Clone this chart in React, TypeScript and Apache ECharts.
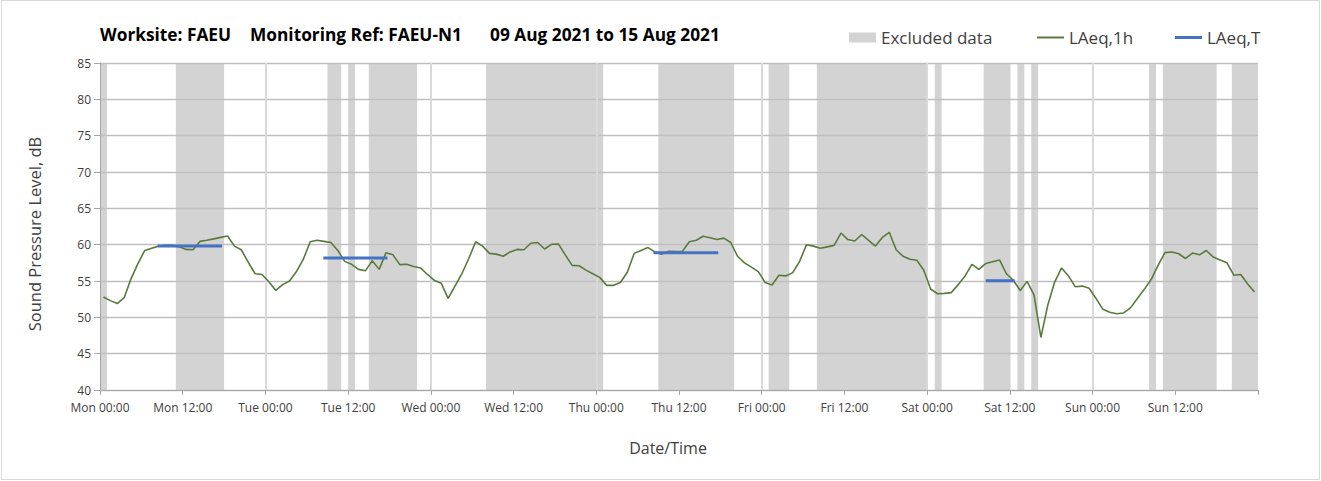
import React, { useEffect, useRef } from "react";
import * as echarts from "echarts";

// LAeq,1h hourly values (index i = hour i from Mon 00:00, plotted at bin centre)
const laeq1h = [
  52.8, 52.3, 51.9, 52.7, 55.3, 57.4, 59.2, 59.5, 59.8, 59.9,
  59.9, 59.7, 59.35, 59.3, 60.45, 60.6, 60.8, 61.0, 61.2, 59.8,
  59.3, 57.6, 56.0, 55.9, 54.9, 53.7, 54.5, 55.0, 56.3, 58.0,
  60.4, 60.6, 60.45, 60.3, 59.2, 57.7, 57.3, 56.6, 56.4, 57.8,
  56.6, 58.9, 58.6, 57.25, 57.3, 57.0, 56.8, 55.9, 55.1, 54.7,
  52.6, 54.3, 56.0, 58.1, 60.4, 59.8, 58.8, 58.7, 58.4, 59.0,
  59.35, 59.3, 60.2, 60.3, 59.4, 60.05, 60.1, 58.6, 57.15, 57.1,
  56.5, 56.0, 55.5, 54.4, 54.4, 54.8, 56.2, 58.8, 59.2, 59.6,
  59.0, 58.7, 59.1, 59.05, 59.1, 60.4, 60.6, 61.15, 60.95, 60.7,
  60.9, 60.3, 58.4, 57.5, 56.9, 56.3, 54.8, 54.45, 55.8, 55.7,
  56.15, 57.7, 60.0, 59.8, 59.5, 59.7, 59.9, 61.6, 60.7, 60.5,
  61.4, 60.6, 59.8, 61.0, 61.7, 59.3, 58.4, 58.0, 57.85, 56.5,
  53.9, 53.25, 53.3, 53.4, 54.5, 55.7, 57.3, 56.6, 57.4, 57.65,
  57.9, 56.0, 55.1, 53.7, 54.95, 53.1, 47.25, 51.65, 54.85, 56.8,
  55.7, 54.2, 54.3, 54.0, 52.6, 51.1, 50.7, 50.5, 50.6, 51.3,
  52.6, 53.85, 55.2, 57.15, 58.9, 59.0, 58.75, 58.1, 58.85, 58.6,
  59.2, 58.3, 57.9, 57.5, 55.8, 55.9, 54.6, 53.5,
];

// Excluded data periods (hours from Mon 00:00)
const excludedStart = [0, 11, 33, 36, 39, 56, 81, 97, 104, 121.1, 128.2, 133.1, 135.1, 152.2, 154.2, 164.2];
const excludedEnd = [1, 18, 35, 37, 46, 73, 92, 100, 120, 122.1, 132.1, 134.1, 136.1, 153.2, 162, 168];

// LAeq,T periods
const periodStart = [8.4, 32.4, 80.3, 128.5];
const periodEnd = [17.7, 41.7, 89.7, 132.7];
const periodLevel = [59.8, 58.15, 58.9, 55.05];

const dayNames = ["Mon", "Tue", "Wed", "Thu", "Fri", "Sat", "Sun"];
const titleParts = ["Worksite: FAEU", "Monitoring Ref: FAEU-N1", "09 Aug 2021 to 15 Aug 2021"];

const FONT = "Open Sans";

export default function App() {
  const ref = useRef<HTMLDivElement>(null);
  useEffect(() => {
    if (!ref.current) return;
    const chart = echarts.init(ref.current, null, { renderer: "svg" });

    const hourlyData = laeq1h.map((v, i) => [i + 0.5, v]);
    const excludedData = excludedStart.map((s, i) => [s, excludedEnd[i]]);
    const periodData: any[] = [];
    periodStart.forEach((s, i) => {
      periodData.push([s, periodLevel[i]]);
      periodData.push([periodEnd[i], periodLevel[i]]);
      periodData.push([periodEnd[i], "-"]);
    });

    const titlePos = [100, 250, 490];
    const legendText = { fontFamily: FONT, fontSize: 17, color: "#404040" };

    chart.setOption({
      animation: false,
      textStyle: { fontFamily: FONT },
      title: titleParts.map((t, i) => ({
        text: t,
        left: titlePos[i],
        top: 26,
        padding: 0,
        textStyle: { fontFamily: FONT, fontSize: 17.3, fontWeight: "bold", color: "#000" },
      })),
      legend: [
        { data: [{ name: "Excluded data", icon: "rect" }], left: 849, top: 29, itemHeight: 10 },
        { data: [{ name: "LAeq,1h", icon: "rect" }], left: 1037, top: 29, itemHeight: 2 },
        { data: [{ name: "LAeq,T", icon: "rect" }], left: 1175, top: 29, itemHeight: 3 },
      ].map((l) => ({
        ...l,
        padding: 0,
        itemWidth: 27,
        itemGap: 4,
        textStyle: legendText,
      })),
      grid: { left: 100, right: 63, top: 63, bottom: 91, containLabel: false },
      xAxis: [
        {
          type: "value",
          min: 0,
          max: 168,
          interval: 12,
          z: 1,
          axisLine: { show: true, lineStyle: { color: "#a6a6a6", width: 1 } },
          axisTick: { show: true, length: 5, lineStyle: { color: "#a6a6a6" } },
          axisLabel: {
            fontFamily: FONT,
            fontSize: 12,
            color: "#404040",
            margin: 11,
            formatter: (v: number) => {
              if (v >= 168) return "";
              const d = Math.floor(v / 24);
              return dayNames[d] + (v % 24 === 0 ? " 00:00" : " 12:00");
            },
          },
          splitLine: { show: false },
          name: "Date/Time",
          nameLocation: "middle",
          nameGap: 50,
          nameTextStyle: { fontFamily: FONT, fontSize: 16, color: "#404040", padding: [0, 22, 0, 0] },
        },
        {
          type: "value",
          position: "top",
          min: 0,
          max: 168,
          interval: 24,
          z: 1,
          axisLine: { show: false },
          axisTick: { show: false },
          axisLabel: { show: false },
          splitLine: { show: true, showMinLine: false, showMaxLine: false, lineStyle: { color: "#d9d9d9", width: 2 } },
        },
      ],
      yAxis: {
        type: "value",
        min: 40,
        max: 85,
        interval: 5,
        z: 1,
        axisLine: { show: true, lineStyle: { color: "#a6a6a6", width: 1 } },
        axisTick: { show: true, length: 6, lineStyle: { color: "#a6a6a6" } },
        axisLabel: { fontFamily: FONT, fontSize: 12, color: "#404040", margin: 9 },
        splitLine: { show: true, lineStyle: { color: "#bfbfbf", width: 1.3 } },
        name: "Sound Pressure Level, dB",
        nameLocation: "middle",
        nameGap: 57,
        nameTextStyle: { fontFamily: FONT, fontSize: 16.5, color: "#404040", padding: [0, 15, 0, 0] },
      },
      series: [
        {
          name: "Excluded data",
          type: "custom",
          z: 0,
          xAxisIndex: 0,
          itemStyle: { color: "#d3d3d3" },
          encode: { x: [0, 1] },
          data: excludedData,
          renderItem: (params: any, api: any) => {
            const p0 = api.coord([api.value(0), 85]);
            const p1 = api.coord([api.value(1), 40]);
            return {
              type: "rect",
              shape: { x: p0[0], y: p0[1], width: p1[0] - p0[0], height: p1[1] - p0[1] },
              style: { fill: "#d3d3d3" },
            };
          },
        },
        {
          name: "LAeq,1h",
          type: "line",
          z: 3,
          xAxisIndex: 0,
          symbol: "none",
          showSymbol: false,
          data: hourlyData,
          lineStyle: { color: "#5a7a3c", width: 1.6 },
          itemStyle: { color: "#5a7a3c" },
        },
        {
          name: "LAeq,T",
          type: "line",
          z: 4,
          xAxisIndex: 0,
          symbol: "none",
          showSymbol: false,
          connectNulls: false,
          data: periodData,
          lineStyle: { color: "#4472c4", width: 3 },
          itemStyle: { color: "#4472c4" },
        },
      ],
      graphic: [
        {
          type: "rect",
          shape: { x: 1.5, y: 0.5, width: 1318, height: 479 },
          style: { fill: "none", stroke: "#d9d9d9", lineWidth: 1 },
          silent: true,
        },
      ],
    });
    return () => chart.dispose();
  }, []);

  return (
    <div
      ref={ref}
      style={{ position: "fixed", left: 0, top: 0, width: 1321, height: 481, background: "#fff" }}
    />
  );
}
